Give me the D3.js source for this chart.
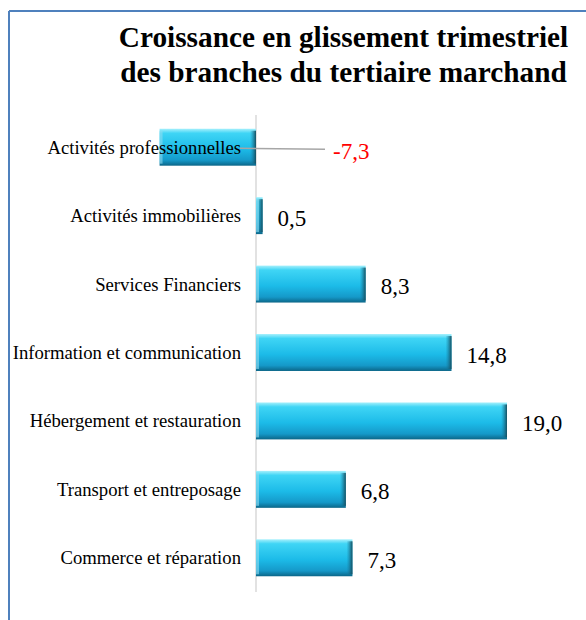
<!DOCTYPE html>
<html>
<head>
<meta charset="utf-8">
<script src="https://cdn.jsdelivr.net/npm/d3@7"></script>
<style>
  body { margin: 0; background: #fff; }
</style>
</head>
<body>
<div id="chart"></div>
<script>
// data, bottom to top as in the source sheet
const categories = ["Commerce et réparation", "Transport et entreposage", "Hébergement et restauration",
  "Information et communication", "Services Financiers", "Activités immobilières", "Activités professionnelles"];
const values = [7.3, 6.8, 19.0, 14.8, 8.3, 0.5, -7.3];
const titleLines = ["Croissance en glissement trimestriel", "des branches du tertiaire marchand"];

const FONT = "'Times New Roman', 'Liberation Serif', Times, 'DejaVu Serif', serif";
const width = 586, height = 620;

const svg = d3.select("#chart").append("svg")
  .attr("width", width)
  .attr("height", height)
  .attr("font-family", FONT)
  .style("display", "block");

const defs = svg.append("defs");
const grad = defs.append("linearGradient")
  .attr("id", "barGrad")
  .attr("x1", 0).attr("y1", 0).attr("x2", 0).attr("y2", 1);
grad.append("stop").attr("offset", "0%").attr("stop-color", "#a6f0fc");
grad.append("stop").attr("offset", "12%").attr("stop-color", "#3fd5f5");
grad.append("stop").attr("offset", "55%").attr("stop-color", "#1cbbe8");
grad.append("stop").attr("offset", "85%").attr("stop-color", "#1599c9");
grad.append("stop").attr("offset", "100%").attr("stop-color", "#0b6688");

const capGrad = defs.append("linearGradient")
  .attr("id", "capGrad")
  .attr("x1", 0).attr("y1", 0).attr("x2", 1).attr("y2", 0);
capGrad.append("stop").attr("offset", "0%").attr("stop-color", "#1a7fa3").attr("stop-opacity", 0);
capGrad.append("stop").attr("offset", "100%").attr("stop-color", "#154f60");

// frame (only top and left visible)
svg.append("line")
  .attr("x1", 9).attr("x2", width).attr("y1", 11).attr("y2", 11)
  .attr("stroke", "#4f81bd").attr("stroke-width", 2);
svg.append("line")
  .attr("x1", 9).attr("x2", 9).attr("y1", 11).attr("y2", height)
  .attr("stroke", "#4f81bd").attr("stroke-width", 2);

// title
const title = svg.append("text")
  .attr("text-anchor", "middle")
  .attr("font-family", FONT)
  .attr("font-weight", "bold")
  .attr("font-size", 29.3)
  .attr("fill", "#000");
title.selectAll("tspan")
  .data(titleLines)
  .join("tspan")
  .attr("x", 343.5)
  .attr("y", (d, i) => 47 + i * 35)
  .text(d => d);

const x = d3.scaleLinear()
  .domain([0, 19.0])
  .range([256, 507]);

const y = d3.scaleBand()
  .domain(categories.slice().reverse())
  .range([113, 592])
  .paddingInner(0.46)
  .paddingOuter(0.23);

// axis line at zero
svg.append("line")
  .attr("x1", x(0)).attr("x2", x(0))
  .attr("y1", 115).attr("y2", 592)
  .attr("stroke", "#d9d9d9").attr("stroke-width", 1.5);

const rows = categories.map((c, i) => ({cat: c, val: values[i]}));

const bars = svg.append("g").selectAll("g")
  .data(rows)
  .join("g");

bars.append("rect")
  .attr("x", d => Math.min(x(0), x(d.val)))
  .attr("y", d => y(d.cat))
  .attr("width", d => Math.abs(x(d.val) - x(0)))
  .attr("height", y.bandwidth())
  .attr("fill", "url(#barGrad)");

// dark right end (bevel look)
bars.append("rect")
  .attr("x", d => Math.max(x(0), x(d.val)) - Math.min(6, Math.abs(x(d.val) - x(0))))
  .attr("y", d => y(d.cat) + 2)
  .attr("width", d => Math.min(6, Math.abs(x(d.val) - x(0))))
  .attr("height", y.bandwidth() - 4)
  .attr("fill", "url(#capGrad)");

// light left end
bars.append("rect")
  .attr("x", d => Math.min(x(0), x(d.val)))
  .attr("y", d => y(d.cat) + 2)
  .attr("width", d => Math.min(3, Math.abs(x(d.val) - x(0))))
  .attr("height", y.bandwidth() - 4)
  .attr("fill", "#8fdcf0")
  .attr("opacity", 0.6);

// category labels
svg.append("g").selectAll("text")
  .data(rows)
  .join("text")
  .attr("x", 241)
  .attr("y", d => y(d.cat) + y.bandwidth() / 2)
  .attr("dy", "0.35em")
  .attr("text-anchor", "end")
  .attr("font-family", FONT)
  .attr("font-size", 18.7)
  .attr("fill", "#000")
  .text(d => d.cat);

// leader line for the negative value
const neg = rows.filter(d => d.val < 0);
svg.append("g").selectAll("line")
  .data(neg)
  .join("line")
  .attr("x1", 240).attr("x2", 325)
  .attr("y1", d => y(d.cat) + y.bandwidth() / 2 + 1)
  .attr("y2", d => y(d.cat) + y.bandwidth() / 2 + 2)
  .attr("stroke", "#a6a6a6").attr("stroke-width", 1.5);

// value labels
const fmt = v => v.toFixed(1).replace(".", ",");
svg.append("g").selectAll("text")
  .data(rows)
  .join("text")
  .attr("x", d => d.val < 0 ? 333 : x(d.val) + 15)
  .attr("y", d => y(d.cat) + y.bandwidth() / 2 + (d.val < 0 ? 4 : 2))
  .attr("dy", "0.35em")
  .attr("font-family", FONT)
  .attr("font-size", 23)
  .attr("fill", d => d.val < 0 ? "#ff0000" : "#000")
  .text(d => fmt(d.val));
</script>
</body>
</html>
